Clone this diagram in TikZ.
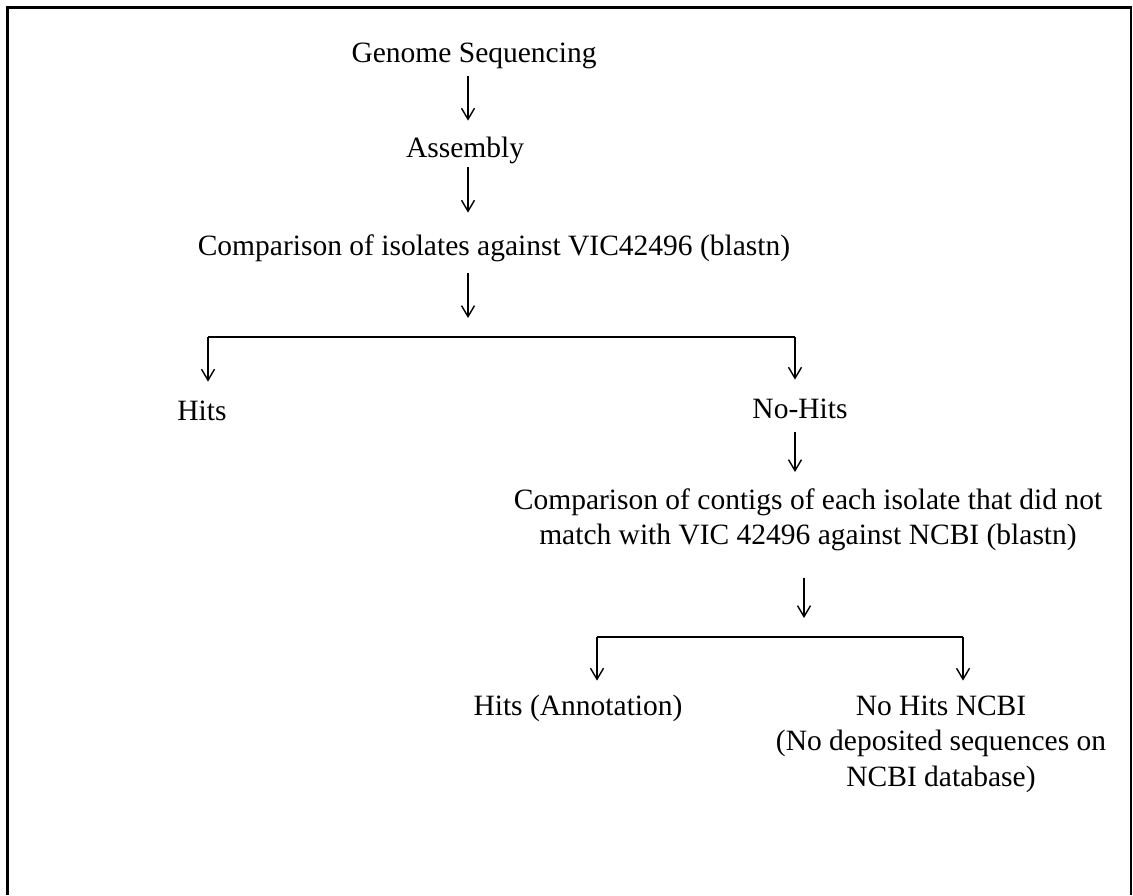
\documentclass[tikz,border=0pt]{standalone}
\usepackage{fontspec}
\setmainfont{Liberation Serif}
\usetikzlibrary{arrows.meta}
\begin{document}
\begin{tikzpicture}[x=0.5pt,y=-0.5pt,
  lbl/.style={inner sep=0pt,anchor=base,font=\fontsize{14.75pt}{17.75pt}\selectfont,text height=10pt,text depth=3.25pt},
  mlbl/.style={inner sep=0pt,anchor=base,font=\fontsize{14.75pt}{17.75pt}\selectfont},
  conn/.style={line width=0.7pt},
  arr/.style={conn,-{Straight Barb[length=5.5pt,width=6.5pt]}},
  frameline/.style={line width=1.5pt}]
\useasboundingbox (0,0) rectangle (1133,895);
% frame
\draw[frameline] (7.5,895) -- (7.5,7) -- (1131,7);
\draw[line width=0.6pt] (1131,6) -- (1131,895);
% nodes
\node[lbl] (gs) at (474,62) {Genome Sequencing};
\node[lbl] (asm) at (465,157) {Assembly};
\node[lbl] (cmp1) at (494,255) {Comparison of isolates against VIC42496 (blastn)};
\node[lbl] (hits) at (202,420) {Hits};
\node[lbl] (nohits) at (800,418) {No-Hits};
\node[mlbl] (cmp2) at (808,509) {\begin{tabular}[t]{@{}c@{}}Comparison of contigs of each isolate that did not\\ match with VIC 42496 against NCBI (blastn)\end{tabular}};
\node[lbl] (hits2) at (578,715) {Hits (Annotation)};
\node[mlbl] (nohits2) at (941,715) {\begin{tabular}[t]{@{}c@{}}No Hits NCBI\\ (No deposited sequences on\\ NCBI database)\end{tabular}};
% split coordinates
\coordinate (s1) at (468,337);
\coordinate (s1l) at (208,337);
\coordinate (s1r) at (795,337);
\coordinate (s2) at (804,637);
\coordinate (s2l) at (597,637);
\coordinate (s2r) at (963,637);
% connectors
\draw[arr,shorten <=3.5pt,shorten >=8pt] (gs.south -| 468,0) -- (asm.north -| 468,0);
\draw[arr,shorten <=1.75pt,shorten >=11pt] (asm.south -| 468,0) -- (cmp1.north -| 468,0);
\draw[arr,shorten <=5.5pt,shorten >=9.5pt] (cmp1.south -| s1) -- (s1);
\draw[conn] (s1l) -- (s1r);
\draw[arr,shorten >=9pt] (s1l) -- (s1l |- hits.north);
\draw[arr,shorten >=9pt] (s1r) -- (s1r |- nohits.north);
\draw[arr,shorten <=3.5pt,shorten >=8pt] (nohits.south -| s1r) -- (s1r |- 0,488);
\draw[arr,shorten <=14pt,shorten >=9.5pt] (s2 |- 0,549.5) -- (s2);
\draw[conn] (s2l) -- (s2r);
\draw[arr,shorten >=7pt] (s2l) -- (s2l |- hits2.north);
\draw[arr,shorten >=7pt] (s2r) -- (s2r |- hits2.north);
\end{tikzpicture}
\end{document}
